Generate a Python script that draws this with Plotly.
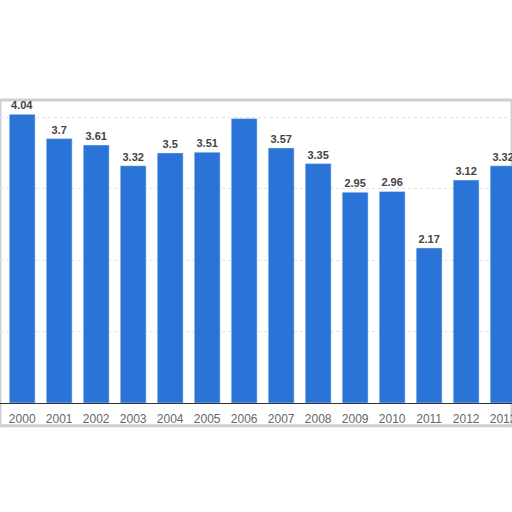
import plotly.graph_objects as go

years = ["2000", "2001", "2002", "2003", "2004", "2005", "2006",
         "2007", "2008", "2009", "2010", "2011", "2012", "2013"]
values = [4.04, 3.7, 3.61, 3.32, 3.5, 3.51, 3.98,
          3.57, 3.35, 2.95, 2.96, 2.17, 3.12, 3.32]
# the 2006 label is cut off in the source picture
labels = ["4.04", "3.7", "3.61", "3.32", "3.5", "3.51", "",
          "3.57", "3.35", "2.95", "2.96", "2.17", "3.12", "3.32"]

xpos = list(range(len(years)))

fig = go.Figure()
fig.add_trace(go.Bar(
    x=xpos, y=values, text=labels, textposition="outside",
    marker_color="#2a74d8", width=0.7, cliponaxis=False,
    textfont=dict(family="Liberation Sans, Arial", size=11, color="#444444"),
))

fig.update_traces(texttemplate="<b>%{text}</b>")

fig.update_xaxes(
    tickvals=xpos, ticktext=years, range=[-0.6, 13.24], automargin=False,
    showgrid=False, showline=True, linecolor="#333333", linewidth=1,
    ticks="", ticklabelstandoff=5, ticklabeloverflow="allow",
    tickfont=dict(family="Liberation Sans, Arial", size=12, color="#666666"),
)
fig.update_yaxes(
    range=[0, 4.24], showticklabels=False, dtick=1, automargin=False,
    gridcolor="#e2e2e2", griddash="dot", zeroline=False,
)

fig.add_shape(type="rect", xref="paper", yref="paper",
              x0=0, x1=1, y0=-0.075, y1=1.0,
              line=dict(color="#cfcfcf", width=3), layer="below")

fig.update_layout(
    width=512, height=512,
    margin=dict(l=0, r=0, t=100, b=109, autoexpand=False),
    plot_bgcolor="white", paper_bgcolor="white",
    showlegend=False, bargap=0.3,
)

fig.write_html("out.html", config={"displayModeBar": False},
               post_script="document.body.style.margin='0px';")
